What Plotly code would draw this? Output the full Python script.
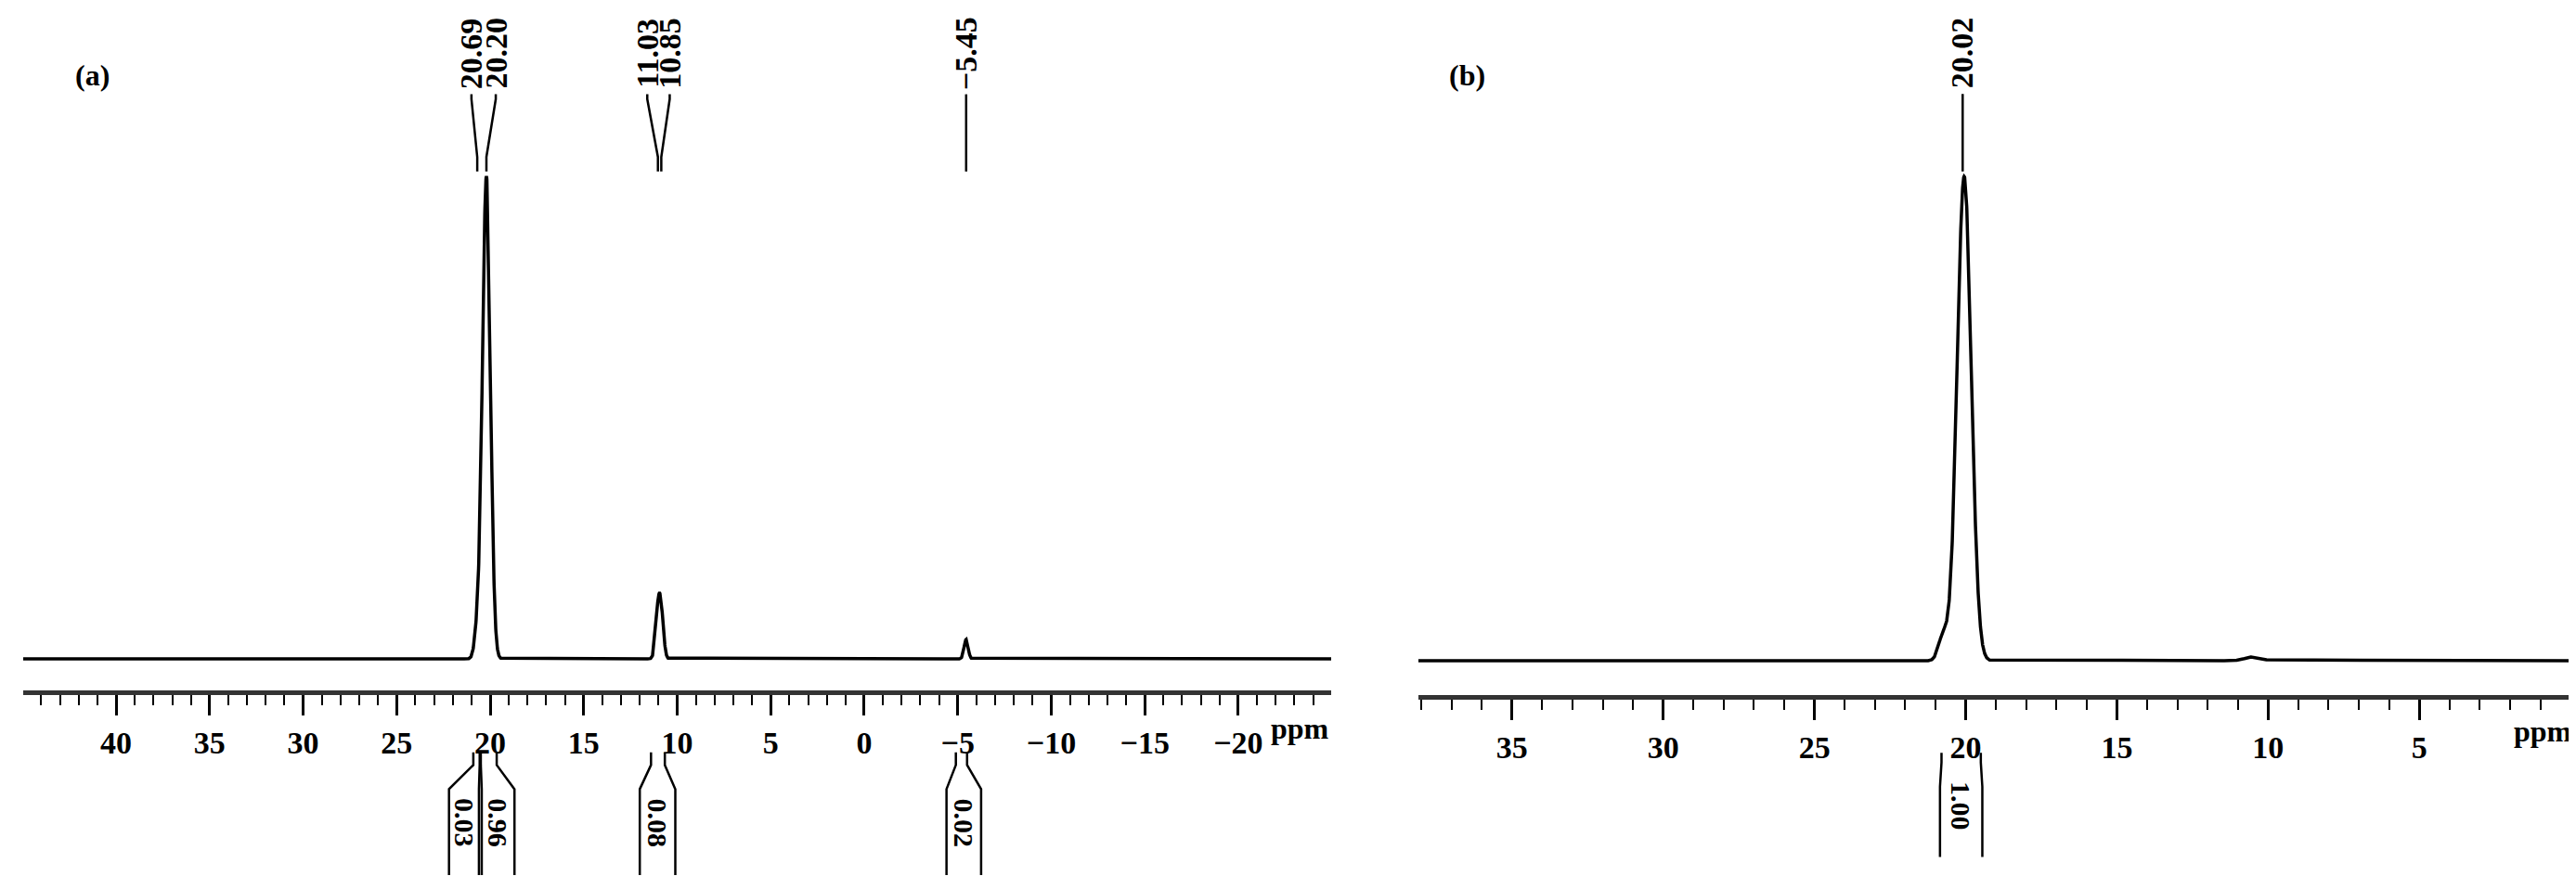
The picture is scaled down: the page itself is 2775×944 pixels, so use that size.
import numpy as np
import plotly.graph_objects as go

# ---- data ----
peaks_a_pos = [20.69, 20.20, 11.03, 10.85, -5.45]
peaks_a_h = [0.05, 1.0, 0.09, 0.085, 0.04]
peaks_a_w = [0.35, 0.50, 0.30, 0.30, 0.25]
labels_a = ["20.69", "20.20", "11.03", "10.85", "-5.45"]
label_a_x = [21.0, 19.7, 11.6, 10.4, -5.45]
# (stub left, stub right, box left, box right, value)
integ_a = [(20.9, 20.56, 22.2, 20.6, "0.03"), (20.5, 19.65, 20.45, 18.7, "0.96"),
           (11.4, 10.66, 12.0, 10.1, "0.08"), (-4.9, -5.5, -4.4, -6.25, "0.02")]
ticks_a = [40, 35, 30, 25, 20, 15, 10, 5, 0, -5, -10, -15, -20]

peaks_b_pos = [20.75, 20.05, 10.5]
peaks_b_h = [0.05, 1.0, 0.008]
peaks_b_w = [0.35, 0.55, 0.6]
labels_b = ["20.02"]
label_b_x = [20.1]
integ_b = [(20.8, 19.5, 20.85, 19.45, "1.00")]
ticks_b = [35, 30, 25, 20, 15, 10, 5]

FONT = "Liberation Serif"

def spectrum(lo, hi, pos, h, w):
    x = np.linspace(lo, hi, 8000)
    y = np.zeros_like(x)
    for p, a, g in zip(pos, h, w):
        s = g / 2.3548
        y += a * np.exp(-0.5 * ((x - p) / s) ** 2)
    return x, y

fig = go.Figure()
xa, ya = spectrum(-25, 45, peaks_a_pos, peaks_a_h, peaks_a_w)
xb, yb = spectrum(0, 38.1, peaks_b_pos, peaks_b_h, peaks_b_w)
fig.add_trace(go.Scatter(x=xa, y=ya, mode="lines", line=dict(color="black", width=3.5), xaxis="x", yaxis="y", showlegend=False))
fig.add_trace(go.Scatter(x=xb, y=yb, mode="lines", line=dict(color="black", width=3.5), xaxis="x2", yaxis="y2", showlegend=False))

shapes, annos = [], []

def add_labels(xr, yr, labels, lx, px):
    for t, xl, xp in zip(labels, lx, px):
        shapes.append(dict(type="path", xref=xr, yref=yr,
                           path=f"M {xl},1.17 L {xl},1.16 L {xp},1.04 L {xp},1.01",
                           line=dict(color="black", width=2.5)))
        annos.append(dict(x=xl, y=1.255, xref=xr, yref=yr, text=t.replace("-", "−"), textangle=-90,
                          showarrow=False, font=dict(family=FONT, size=34, color="black", weight="bold")))

def add_integrals(xr, yr, integ, top, flare, bottom, ylab):
    for a, b, L, R, t in integ:
        c = (L + R) / 2
        shapes.append(dict(type="path", xref=xr, yref=yr,
                           path=f"M {a},{top} L {a},{flare} L {L},{flare-0.05} L {L},{bottom}",
                           line=dict(color="black", width=2.5)))
        shapes.append(dict(type="path", xref=xr, yref=yr,
                           path=f"M {b},{top} L {b},{flare} L {R},{flare-0.05} L {R},{bottom}",
                           line=dict(color="black", width=2.5)))
        annos.append(dict(x=c, y=ylab, xref=xr, yref=yr, text=t, textangle=90, showarrow=False,
                          font=dict(family=FONT, size=30, color="black", weight="bold")))

add_labels("x", "y", labels_a, label_a_x, peaks_a_pos)
add_labels("x2", "y2", labels_b, label_b_x, [20.1])
add_integrals("x", "y", integ_a, -0.194, -0.22, -0.448, -0.34)
add_integrals("x2", "y2", integ_b, -0.19, -0.21, -0.405, -0.30)

annos.append(dict(x=-23.3, y=-0.145, xref="x", yref="y", text="ppm", showarrow=False,
                  font=dict(family=FONT, size=32, color="black", weight="bold")))
annos.append(dict(x=0.9, y=-0.145, xref="x2", yref="y2", text="ppm", showarrow=False,
                  font=dict(family=FONT, size=32, color="black", weight="bold")))
annos.append(dict(x=71 / 2775, y=1 - 53 / 944, xref="paper", yref="paper", text="(a)", showarrow=False,
                  font=dict(family=FONT, size=32, color="black", weight="bold")))
annos.append(dict(x=1572 / 2775, y=1 - 53 / 944, xref="paper", yref="paper", text="(b)", showarrow=False,
                  font=dict(family=FONT, size=32, color="black", weight="bold")))

def xaxis(domain, rng, ticks, pos):
    return dict(domain=domain, range=rng, anchor="free", position=pos,
                tickvals=ticks, ticktext=[str(t).replace("-", "−") for t in ticks],
                ticks="outside", ticklen=22, tickwidth=2.5, tickcolor="black",
                minor=dict(dtick=1, ticks="outside", ticklen=11, tickwidth=2, tickcolor="black"),
                showline=True, linewidth=5, linecolor="#333", showgrid=False, zeroline=False,
                tickfont=dict(family=FONT, size=34, color="black", weight="bold"))

fig.update_layout(
    width=2775, height=944, margin=dict(l=0, r=0, t=0, b=0),
    paper_bgcolor="white", plot_bgcolor="white",
    xaxis=xaxis([0.0061, 0.5139], [44.97, -24.97], ticks_a, 0.218),
    xaxis2=xaxis([0.5477, 0.995], [38.1, 0.0], ticks_b, 0.213),
    yaxis=dict(domain=[0, 1], range=[-0.4654, 1.35], visible=False, anchor="x"),
    yaxis2=dict(domain=[0, 1], range=[-0.4598, 1.3487], visible=False, anchor="x2"),
    shapes=shapes, annotations=annos,
)
fig.write_html("out.html")
